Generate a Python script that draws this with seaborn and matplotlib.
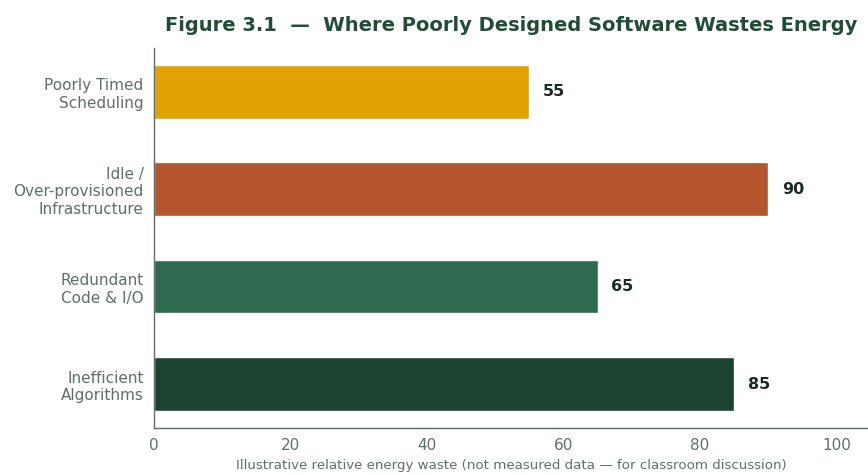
# Figure 3.1 - where poorly designed software wastes energy
import pandas as pd
import matplotlib
matplotlib.use("Agg")
import matplotlib.pyplot as plt
import seaborn as sns

# -------------------------------
# Data
# -------------------------------
categories = [
    "Poorly Timed\nScheduling",
    "Idle /\nOver-provisioned\nInfrastructure",
    "Redundant\nCode & I/O",
    "Inefficient\nAlgorithms",
]
waste = [55, 90, 65, 85]
colors = ["#E0A204", "#B5552F", "#2E6A4F", "#1C4331"]

df = pd.DataFrame({"category": categories, "waste": waste})

# -------------------------------
# Plot
# -------------------------------
sns.set_style("white")
plt.rcParams["font.family"] = ["DejaVu Sans"]

fig = plt.figure(figsize=(8.68, 4.75), dpi=100)
ax = fig.add_axes([0.1775, 0.099, 0.8225, 0.80])

sns.barplot(data=df, x="waste", y="category", hue="category",
            palette=colors, legend=False, width=0.55, ax=ax,
            saturation=1)

for i, v in enumerate(waste):
    ax.text(v + 2, i, str(v), va="center", ha="left",
            fontsize=11.5, fontweight="bold", color="#1B2A22")

ax.set_xlim(0, 104.6)
ax.set_ylim(3.45, -0.45)
ax.set_xticks([0, 20, 40, 60, 80, 100])
ax.set_ylabel("")
ax.set_xlabel("Illustrative relative energy waste (not measured data \u2014 for classroom discussion)",
              fontsize=9.6, color="#5F6F68", labelpad=4)
ax.set_title("Figure 3.1  \u2014  Where Poorly Designed Software Wastes Energy",
             fontsize=14, fontweight="bold", color="#1F4D36", pad=12)

ax.tick_params(axis="both", colors="#5A6B63", labelcolor="#5F6F68",
               length=4, width=0.8)
ax.tick_params(axis="y", labelsize=11)
ax.tick_params(axis="x", labelsize=11)

sns.despine(ax=ax)
for s in ["left", "bottom"]:
    ax.spines[s].set_color("#5A6B63")
    ax.spines[s].set_linewidth(1)

fig.savefig("out.png", dpi=100)
